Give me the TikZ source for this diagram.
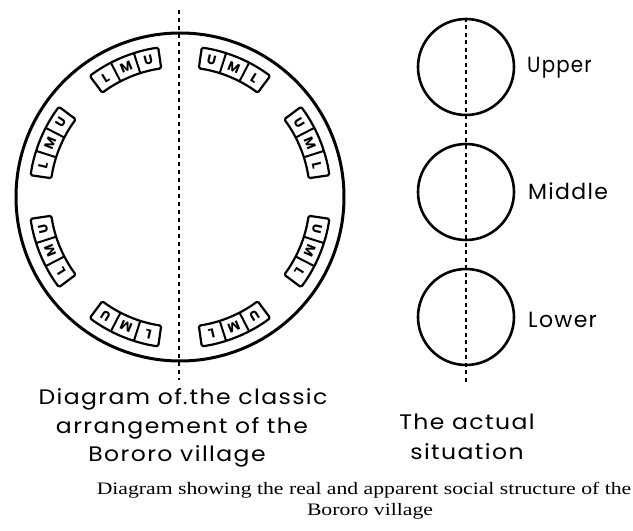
\documentclass[tikz,border=0pt]{standalone}
\usepackage{fontspec}
\setmainfont{Liberation Serif}
\newfontfamily\handfont[LetterSpace=6]{Poppins}
\newfontfamily\boxfont{Poppins}
\newcommand\hwide[1]{\scalebox{1.12}[1]{#1}}
\begin{document}
\begin{tikzpicture}[x=1pt,y=1pt,
  ring/.style={line width=3pt},
  smallring/.style={line width=2.6pt},
  boxline/.style={line width=2.2pt, line join=round, rounded corners=1.5pt},
  divider/.style={line width=2pt},
  dashline/.style={line width=2.8pt, dash pattern=on 4.5pt off 3.5pt},
  letter/.style={font=\boxfont\bfseries\fontsize{13}{13}\selectfont, inner sep=0pt},
  hand/.style={font=\handfont\fontsize{21}{21}\selectfont, inner sep=0pt},
  label/.style={font=\handfont\fontsize{22}{22}\selectfont, inner sep=0pt, anchor=base west},
  caption/.style={inner sep=0pt, anchor=base}]
\useasboundingbox (0,0) rectangle (633,531);
% classic arrangement
\coordinate (C) at (180,334);
\draw[ring] (C) circle[radius=164];
\coordinate (dtop) at (179,521);
\coordinate (dbot) at (179,151);
\draw[dashline] (dtop) -- (dbot);
\fill (185,128) circle[radius=1.5];
\begin{scope}[shift={(C)}]
\foreach \t/\a/\b/\c [count=\g] in {112.5/L/M/U, 157.5/L/M/U, 202.5/L/M/U, 247.5/L/M/U,
                                     67.5/U/M/L, 22.5/U/M/L, -22.5/U/M/L, -67.5/U/M/L}{
  \draw[boxline] ({\t+14.2}:130) arc[start angle={\t+14.2}, end angle={\t-14.2}, radius=130]
     -- ({\t-14.2}:151) arc[start angle={\t-14.2}, end angle={\t+14.2}, radius=151] -- cycle;
  \draw[divider] ({\t+4.73}:130) -- ({\t+4.73}:151);
  \draw[divider] ({\t-4.73}:130) -- ({\t-4.73}:151);
  \node[letter, rotate={\t+9.47-90}] (b\g a) at ({\t+9.47}:140.5) {\a};
  \node[letter, rotate={\t-90}] (b\g b) at (\t:140.5) {\b};
  \node[letter, rotate={\t-9.47-90}] (b\g c) at ({\t-9.47}:140.5) {\c};
}
\end{scope}
% actual situation
\node[smallring, draw, circle, minimum size=96pt, inner sep=0pt] (up) at (466,464) {};
\node[smallring, draw, circle, minimum size=96pt, inner sep=0pt] (mid) at (466,339) {};
\node[smallring, draw, circle, minimum size=96pt, inner sep=0pt] (low) at (466,214) {};
\coordinate (rbot) at (466,148);
\draw[line width=2.3pt, dash pattern=on 4pt off 3.5pt] (up.north) -- (rbot);
\node[label] (lu) at (527,458) {\scalebox{0.9}[1]{Upper}};
\node[label] (lm) at (528,331) {Middle};
\node[label] (ll) at (528,203) {Lower};
% texts
\node[hand, anchor=base] (t1) at (183,126) {\hwide{Diagram of the classic}};
\node[hand, anchor=base] (t2) at (182,97) {\hwide{arrangement of the}};
\node[hand, anchor=base] (t3) at (177,69) {\hwide{Bororo village}};
\node[hand, anchor=base] (s1) at (467,101) {\hwide{The actual}};
\node[hand, anchor=base] (s2) at (467,71) {\hwide{situation}};
\node[caption] (c1) at (364,36) {\scalebox{1.24}[1]{\fontsize{17.5}{17.5}\selectfont Diagram showing the real and apparent social structure of the}};
\node[caption] (c2) at (370,16) {\scalebox{1.24}[1]{\fontsize{17.5}{17.5}\selectfont Bororo village}};
\end{tikzpicture}
\end{document}
